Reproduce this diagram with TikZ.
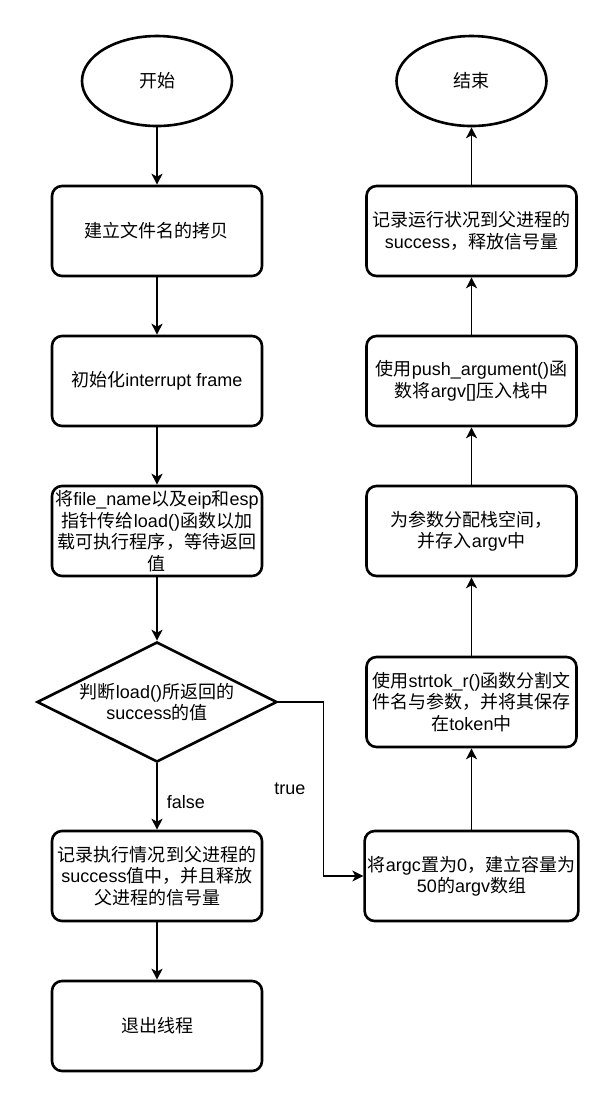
\documentclass[tikz,border=0pt]{standalone}
\usepackage{fontspec}
\setmainfont{Noto Sans CJK SC}
\newfontfamily\latfont{Liberation Sans}
\newcommand\lat[1]{{\latfont #1}}
\usetikzlibrary{positioning}
\usetikzlibrary{matrix}
\usetikzlibrary{shapes.geometric}
\usetikzlibrary{arrows.meta}

\tikzset{
  terminal/.style={ellipse, draw, line width=2.6pt, minimum width=150pt, minimum height=90pt},
  process/.style={rectangle, draw, rounded corners=10pt, line width=2.6pt, minimum width=210pt, minimum height=90pt, align=center},
  decision/.style={diamond, draw, line width=2.6pt, aspect=2, inner sep=-4pt, minimum width=240pt, minimum height=120pt, align=center}
}

\begin{document}
\begin{tikzpicture}[x=1pt,y=-1pt,font=\fontsize{18pt}{21.5pt}\selectfont,>={Stealth[length=11pt,width=11pt,inset=3pt]}]
\useasboundingbox (0,0) rectangle (605,1100);
\matrix (flow) [row sep={150pt,between origins}, column sep={314.5pt,between origins},
  matrix anchor=start.center] at (157,81)
  {
     \node[terminal] (start) {开始}; & \node[terminal] (stop) {结束}; \\
     \node[process] (copy) {建立文件名的拷贝}; & \node[process] (report) {记录运行状况到父进程的\\\lat{success}，释放信号量}; \\
     \node[process] (frame) {初始化\lat{interrupt frame}}; & \node[process] (push) {使用\lat{push\_argument()}函\\数将\lat{argv[]}压入栈中}; \\
     \node[process] (load) {将\lat{file\_name}以及\lat{eip}和\lat{esp}\\指针传给\lat{load()}函数以加\\载可执行程序，等待返回\\值}; & \node[process] (alloc) {为参数分配栈空间，\\并存入\lat{argv}中}; \\[21pt]
     \node[decision] (check) {判断\lat{load()}所返回的\\\lat{success}的值}; & \node[process] (split) {使用\lat{strtok\_r()}函数分割文\\件名与参数，并将其保存\\在\lat{token}中}; \\[24pt]
     \node[process] (fail) {记录执行情况到父进程的\\\lat{success}值中，并且释放\\父进程的信号量}; & \node[process] (argc) {将\lat{argc}置为\lat{0}，建立容量为\\\lat{50}的\lat{argv}数组}; \\
     \node[process] (exit) {退出线程}; & \\
  };
  \path[->, line width=1.3pt]
    (start) edge (copy)
    (copy) edge (frame)
    (frame) edge (load)
    (load) edge (check)
    (check) edge node [pos=0.58, right=6pt] {\lat{false}} (fail)
    (fail) edge (exit)
    (argc) edge (split)
    (split) edge (alloc)
    (alloc) edge (push)
    (push) edge (report)
    (report) edge (stop)
    ;
  \draw[->, line width=1.3pt] (check.east) -- ++(45,0) |- node [pos=0.25, left=14pt] {\lat{true}} (argc.west);
\end{tikzpicture}
\end{document}
